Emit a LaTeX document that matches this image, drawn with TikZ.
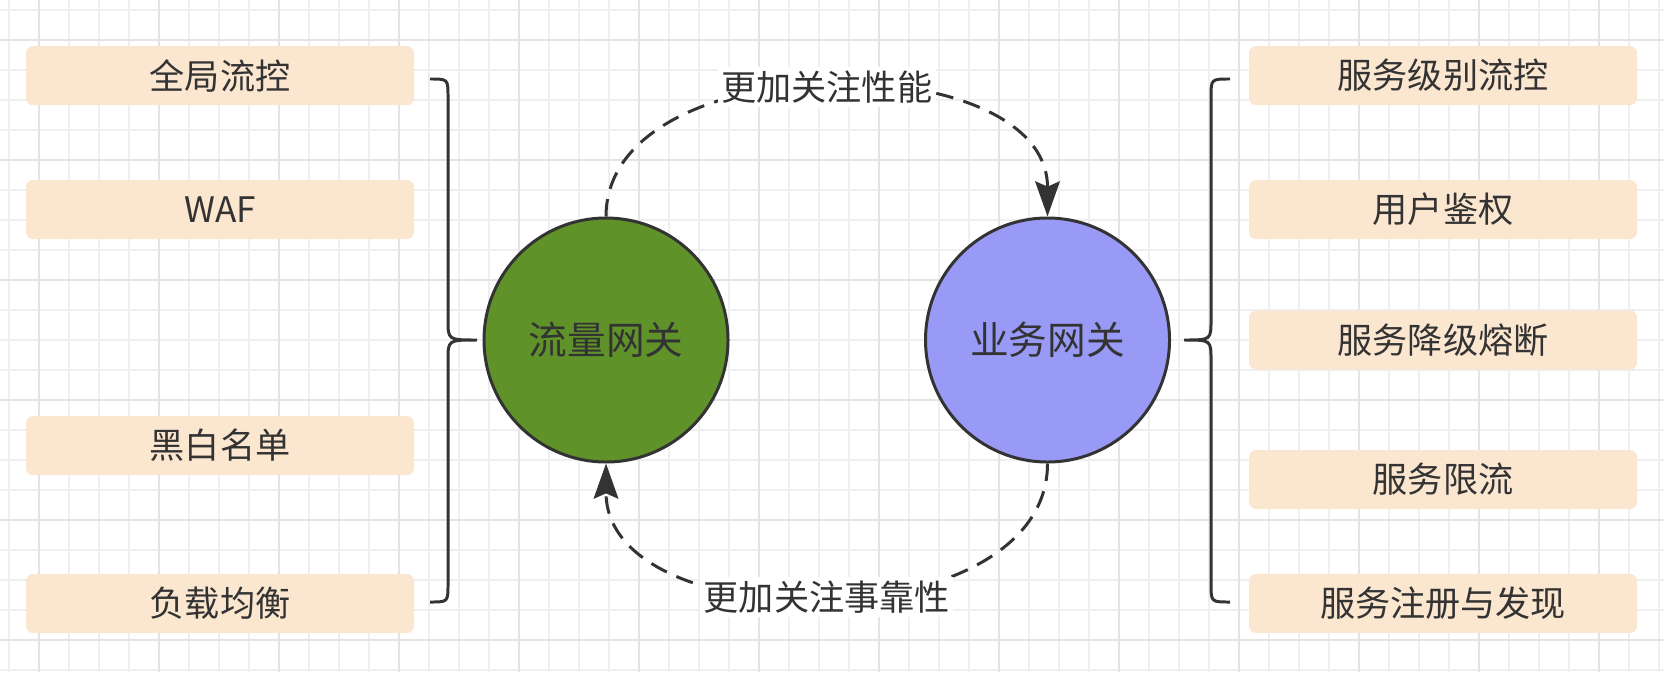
\documentclass[tikz,border=0pt]{standalone}
\usepackage{fontspec}
\setmainfont{Noto Sans CJK SC}
\usepackage{tikz}
\usetikzlibrary{arrows.meta, positioning}
\definecolor{gwtext}{HTML}{333333}
\definecolor{gwpeach}{HTML}{FBE6D0}
\definecolor{gwgreen}{HTML}{60922A}
\definecolor{gwblue}{HTML}{9999F6}
\definecolor{gwgridminor}{HTML}{EFEFEF}
\definecolor{gwgridmajor}{HTML}{E4E4E4}

\tikzset{
  featbox/.style={fill=gwpeach, rounded corners=2pt, minimum width=3.88cm, minimum height=0.59cm,
    inner sep=0pt, text=gwtext, font=\fontsize{10}{12}\selectfont},
  gateway/.style={circle, draw=gwtext, line width=0.85pt, minimum size=2.44cm, inner sep=0pt,
    text=gwtext, font=\fontsize{11}{13}\selectfont},
  flowline/.style={draw=gwtext, line width=0.85pt, dash pattern=on 5pt off 3pt,
    -{Stealth[length=10pt, width=7pt, inset=1.5pt]}},
  flowlabel/.style={fill=white, inner sep=1pt, text=gwtext, font=\fontsize{10}{12}\selectfont},
  bracket/.style={draw=gwtext, line width=0.85pt}
}

\begin{document}
\begin{tikzpicture}
  \useasboundingbox (0,0) rectangle (16.64,6.72);
  \fill[white] (0,0) rectangle (16.64,6.72);
  % grid
  \foreach \i in {0,...,55} \draw[gwgridminor, line width=0.5pt] ({0.09+0.3*\i},0) -- ++(0,6.72);
  \foreach \j in {0,...,22} \draw[gwgridminor, line width=0.5pt] (0,{6.62-0.3*\j}) -- ++(16.64,0);
  \foreach \i in {0,...,13} \draw[gwgridmajor, line width=0.75pt] ({0.39+1.2*\i},0) -- ++(0,6.72);
  \foreach \j in {0,...,5} \draw[gwgridmajor, line width=0.75pt] (0,{6.32-1.2*\j}) -- ++(16.64,0);

  % feature boxes
  \foreach \t/\y [count=\i] in {全局流控/5.963, WAF/4.625, 黑白名单/2.265, 负载均衡/0.685} {
    \node[featbox] (lb\i) at (2.20,\y) {\t};
  }
  \foreach \t/\y [count=\i] in {服务级别流控/5.964, 用户鉴权/4.624, 服务降级熔断/3.32, 服务限流/1.924, 服务注册与发现/0.686} {
    \node[featbox] (rb\i) at (14.43,\y) {\t};
  }

  % gateways
  \node[gateway, fill=gwgreen] (flowgw) at (6.06,3.32) {流量网关};
  \node[gateway, fill=gwblue] (bizgw) at (10.475,3.32) {业务网关};

  % braces
  \draw[bracket] (4.30,5.93) .. controls (4.48,5.93) .. (4.48,5.75) -- (4.48,3.52)
    .. controls (4.48,3.32) .. (4.77,3.32) .. controls (4.48,3.32) .. (4.48,3.12)
    -- (4.48,0.88) .. controls (4.48,0.70) .. (4.30,0.70);
  \draw[bracket] (12.30,5.93) .. controls (12.11,5.93) .. (12.11,5.75) -- (12.11,3.52)
    .. controls (12.11,3.32) .. (11.84,3.32) .. controls (12.11,3.32) .. (12.11,3.12)
    -- (12.11,0.88) .. controls (12.11,0.70) .. (12.30,0.70);

  % flows
  \draw[flowline] (flowgw.north) .. controls +(0,1.73) and +(0,1.73) .. node[midway, flowlabel] (perflbl) {更加关注性能} (bizgw.north);
  \draw[flowline] (bizgw.south) .. controls +(0,-1.78) and +(0,-1.78) .. node[midway, flowlabel] (rellbl) {更加关注事靠性} (flowgw.south);
\end{tikzpicture}
\end{document}
